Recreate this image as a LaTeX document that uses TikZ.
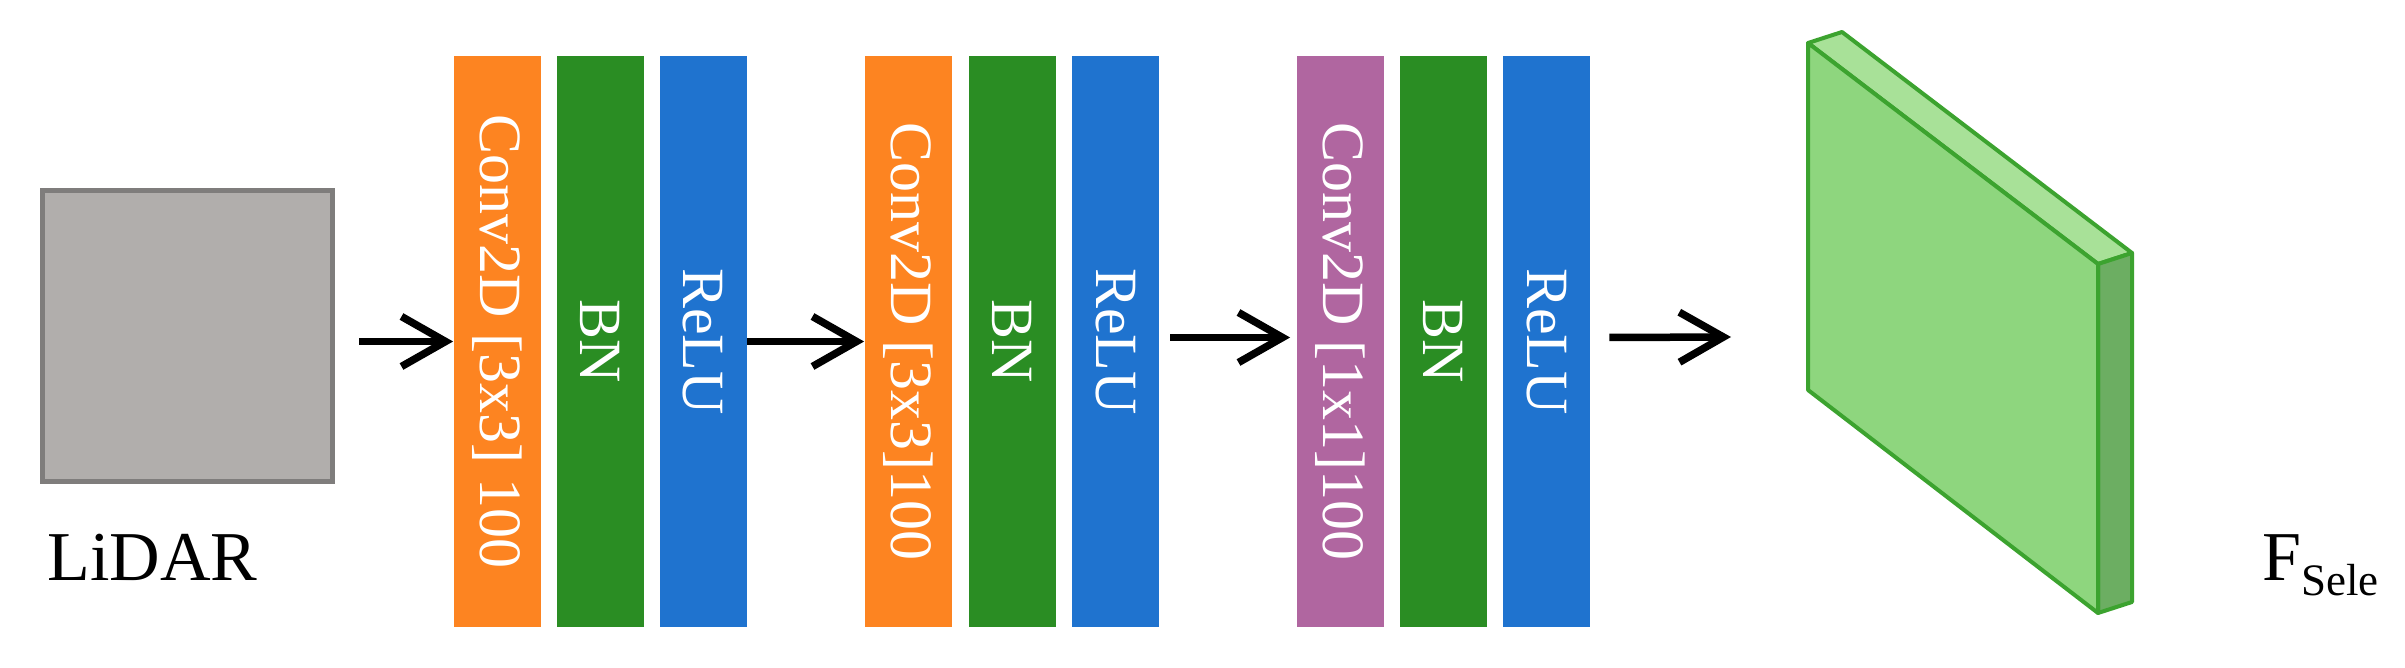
\documentclass[tikz,border=0pt]{standalone}
\usepackage{fontspec}
\setmainfont{Liberation Serif}
\usetikzlibrary{arrows.meta}
\definecolor{corange}{HTML}{FD8421}
\definecolor{cgreen}{HTML}{2A8D23}
\definecolor{cblue}{HTML}{1F73CF}
\definecolor{cpurple}{HTML}{B066A0}
\definecolor{lidarfill}{HTML}{B1AEAC}
\definecolor{lidardraw}{HTML}{7F7D7C}
\definecolor{slabfront}{HTML}{8ED67E}
\definecolor{slabtop}{HTML}{A8E198}
\definecolor{slabside}{HTML}{6CAE62}
\definecolor{slabedge}{HTML}{3CA32F}
\tikzset{
  bar/.style={draw=none, inner sep=0pt, minimum width=43.5pt, minimum height=285.5pt},
  bartext/.style={rotate=-90, text=white, inner sep=0pt, font=\fontsize{30pt}{36pt}\selectfont},
  arr/.style={line width=3.75pt, -{Straight Barb[length=22pt, width=25pt]}},
  lbl/.style={inner sep=0pt, anchor=base west, font=\fontsize{35pt}{42pt}\selectfont},
  slab/.style={draw=slabedge, line width=2pt, line join=round}
}
\begin{document}
\begin{tikzpicture}[x=0.5pt, y=-0.5pt]
\useasboundingbox (0,0) rectangle (2405,668);
\fill[white] (0,0) rectangle (2405,668);
% LiDAR input
\node[draw=lidardraw, fill=lidarfill, line width=2.5pt, inner sep=0pt,
      minimum width=145pt, minimum height=145.5pt] (lidar) at (187.5,336) {};
\node[lbl] (lidarlbl) at (47,580) {LiDAR};
% block 1
\node[bar, fill=corange] (o1) at (497,341.5) {};
\node[bar, fill=cgreen]  (g1) at (600.5,341.5) {};
\node[bar, fill=cblue]   (b1) at (703,341.5) {};
% block 2
\node[bar, fill=corange] (o2) at (908,341.5) {};
\node[bar, fill=cgreen]  (g2) at (1012,341.5) {};
\node[bar, fill=cblue]   (b2) at (1115.5,341.5) {};
% block 3
\node[bar, fill=cpurple] (p3) at (1340,341.5) {};
\node[bar, fill=cgreen]  (g3) at (1443,341.5) {};
\node[bar, fill=cblue]   (b3) at (1546.5,341.5) {};
% texts
\node[bartext] (o1t) at (o1) {Conv2D [3x3] 100};
\node[bartext] (g1t) at (g1) {BN};
\node[bartext] (b1t) at (b1) {ReLU};
\node[bartext] (o2t) at (o2) {Conv2D [3x3]100};
\node[bartext] (g2t) at (g2) {BN};
\node[bartext] (b2t) at (b2) {ReLU};
\node[bartext] (p3t) at (p3) {Conv2D [1x1]100};
\node[bartext] (g3t) at (g3) {BN};
\node[bartext] (b3t) at (b3) {ReLU};
% output slab
\coordinate (s1) at (1808,43);
\coordinate (s2) at (2098,264);
\coordinate (s3) at (2098,613);
\coordinate (s4) at (1808,390);
\coordinate (t1) at (1842,32);
\coordinate (t2) at (2132,253);
\coordinate (t3) at (2132,602);
\filldraw[slab, fill=slabtop] (s1) -- (t1) -- (t2) -- (s2) -- cycle;
\filldraw[slab, fill=slabside] (s2) -- (t2) -- (t3) -- (s3) -- cycle;
\filldraw[slab, fill=slabfront] (s1) -- (s2) -- (s3) -- (s4) -- cycle;
\node[lbl] (flbl) at (2262,580) {F\raisebox{-7.5pt}{\fontsize{22.5pt}{27pt}\selectfont Sele}};
% arrows
\coordinate (a4end) at (1731,337);
\draw[arr] ([xshift=12pt]lidar.east |- o1.west) -- (o1.west);
\draw[arr] (b1.east) -- (o2.west);
\draw[arr] ([xshift=5.5pt,yshift=2pt]b2.east) -- ([xshift=-3pt,yshift=2pt]p3.west);
\draw[arr] ([xshift=9.5pt,yshift=2pt]b3.east) -- (a4end);
\end{tikzpicture}
\end{document}
